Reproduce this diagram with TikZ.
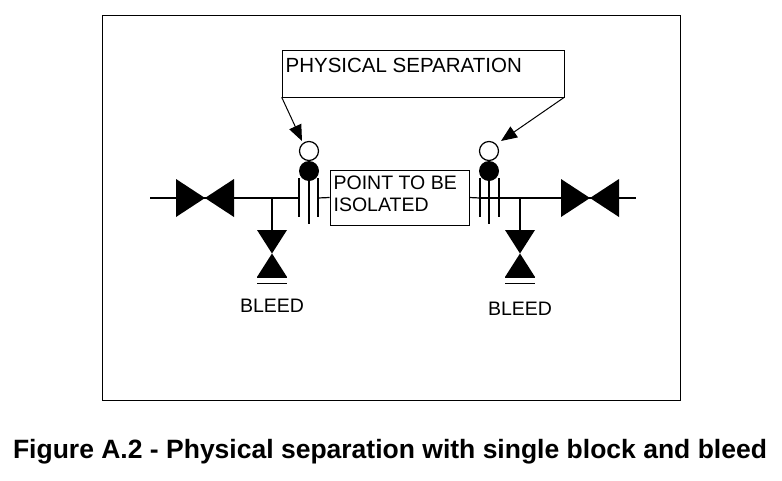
\documentclass[tikz,border=0pt]{standalone}
\usepackage{fontspec}
\setmainfont{Liberation Sans}
\usetikzlibrary{arrows.meta}
\begin{document}
\begin{tikzpicture}[x=1pt,y=-1pt,line width=1.2pt,
  lbl/.style={font=\fontsize{19.5}{22}\selectfont,inner sep=0pt},
  boxed/.style={draw,line width=0.6pt,inner sep=0pt},
  arr/.style={line width=1pt,-{Triangle[length=16pt,width=13pt]}}]
\useasboundingbox (0,0) rectangle (782,480);
\draw[line width=1pt] (102,15) rectangle (680,400);
% main lines
\coordinate (L0) at (150,198); \coordinate (LF) at (299,198);
\draw (L0) -- (LF);
\draw (480,198) -- (636,198);
% main valves
\foreach \cx/\nm in {205/vl,590/vr}{
  \fill (\cx-29,179) -- (\cx+29,217) -- (\cx+29,179) -- (\cx-29,217) -- cycle;
}
% bleed tees and valves
\foreach \tx/\by in {272/306,520/309}{
  \draw (\tx,198) -- (\tx,231);
  \fill (\tx-15,230) -- (\tx+15,230) -- (\tx-15,277) -- (\tx+15,277) -- cycle;
  \draw[line width=1pt] (\tx-15,277.5) -- (\tx+15,277.5);
  \draw[line width=1pt] (\tx-15,283) -- (\tx+15,283);
  \node[lbl] at (\tx,\by) {BLEED};
}
% flanges
\foreach \a/\b/\c in {299/309/318,480/489/499}{
  \draw (\a,178) -- (\a,217);
  \draw (\b,178) -- (\b,224);
  \draw (\c,178) -- (\c,217);
  \draw (\b,151) circle (9.5);
  \fill (\b,171) circle (10);
}
\node[boxed,minimum width=139pt,minimum height=55pt] (pt) at (399.5,197.5) {};
\node[lbl,anchor=north west,align=left] at (333,175) {POINT TO BE\\ISOLATED};
\draw (318,198) -- (pt.west);
\draw (pt.east) -- (480,198);
\node[boxed,minimum width=282pt,minimum height=47pt] (ps) at (423,73.5) {};
\node[lbl,anchor=north west,font=\fontsize{20.5}{22}\selectfont] at (285,58) {PHYSICAL SEPARATION};
\coordinate (c1) at (302,141); \coordinate (c2) at (501,141);
\draw[arr] (ps.south west) -- (c1);
\draw[arr] (ps.south east) -- (c2);
\node[font=\bfseries\fontsize{26.5}{28}\selectfont,inner sep=0pt] (cap) at (390,452) {Figure A.2 - Physical separation with single block and bleed};
\end{tikzpicture}
\end{document}
